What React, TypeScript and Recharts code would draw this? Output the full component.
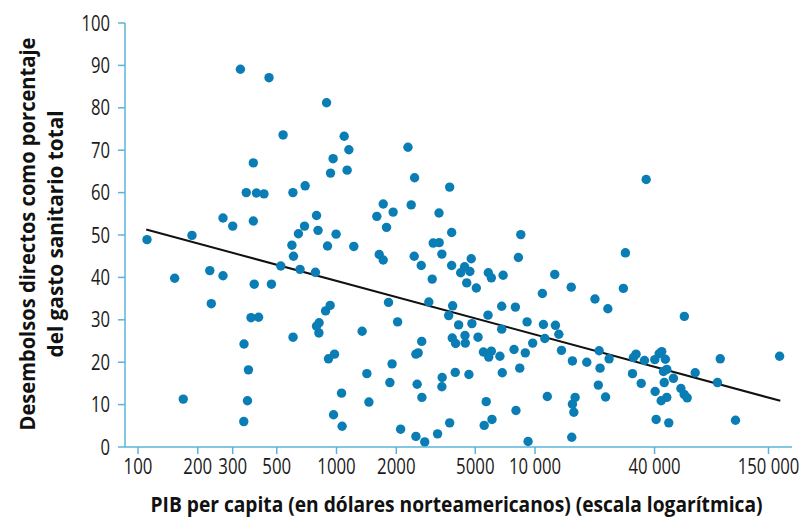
import React from 'react';
import { ScatterChart, Scatter, XAxis, YAxis, ReferenceLine, Label } from 'recharts';

// PIB per capita (USD) vs desembolsos directos (% del gasto sanitario total)
const gdp = [
  328, 457, 891, 538, 1093, 1154, 961, 1131, 933, 381, 351, 395, 431, 603, 695, 268, 300, 381, 793, 690, 807, 643, 995, 187, 111, 596, 901,
  607, 524, 655, 783, 230, 268, 153, 385, 470, 929, 881, 234, 371, 405, 817, 793, 815, 604, 342, 977, 911, 360, 1060, 169, 356, 966, 341, 1067,
  2291, 2473, 3715, 1719, 2378, 1596, 1928, 1786, 3283, 3802, 1222, 3069, 3289, 3394, 1641, 1719, 2462, 2671, 3802, 4771, 4418, 4220, 4698,
  5817, 6025, 6906, 3034, 4528, 5062, 8245, 8479, 12570, 10890, 1828, 2917, 3846, 3673, 5796, 6793, 7963, 9120, 11020, 12670, 13180, 13590,
  2031, 4123, 4808, 6793, 1346, 2686, 3828, 3981, 4438, 4453, 5163, 2512, 2579, 1905, 5495, 6025, 5845, 6653, 7838, 8933, 9730, 11200,
  1422, 1857, 2548, 3963, 4645, 3405, 3394, 6838, 8376, 2692, 1456, 5675, 8017, 11530, 2103, 2512, 2782, 3229, 3715, 5546, 6068, 9226,
  36300, 28530, 27860, 15220, 20040, 23270, 56520, 15430, 18230, 21040, 21260, 23610, 20840, 22660, 15920, 15430, 15680, 15310,
  30970, 34270, 32280, 31300, 35580, 40110, 42170, 43480, 45360, 46100, 44360, 49790, 44760, 40270, 43190, 46100, 54310, 56390, 58410,
  64090, 85700, 83000, 40740, 47170, 102300, 170600,
];

const outOfPocket = [
  89.1, 87.1, 81.2, 73.6, 73.3, 70.1, 68.0, 65.3, 64.6, 67.0, 60.0, 59.9, 59.7, 60.0, 61.6, 54.0, 52.1, 53.3, 54.6, 52.1, 51.1, 50.3, 50.2, 49.9, 48.9, 47.6, 47.4,
  45.0, 42.7, 41.9, 41.2, 41.6, 40.4, 39.8, 38.4, 38.4, 33.4, 32.1, 33.8, 30.5, 30.6, 29.3, 28.5, 26.9, 25.9, 24.3, 21.9, 20.8, 18.2, 12.7, 11.3, 10.9, 7.6, 6.0, 4.9,
  70.7, 63.5, 61.3, 57.3, 57.1, 54.4, 55.4, 51.8, 55.2, 50.6, 47.3, 48.1, 48.2, 45.5, 45.4, 44.1, 45.0, 42.8, 42.8, 44.4, 42.5, 41.1, 41.4,
  41.1, 39.9, 40.5, 39.6, 38.7, 37.5, 44.7, 50.1, 40.7, 36.2, 34.1, 34.2, 33.3, 31.0, 31.1, 33.2, 33.0, 29.5, 28.9, 28.7, 26.6, 22.8,
  29.5, 28.8, 29.1, 27.8, 27.3, 24.9, 25.7, 24.4, 26.3, 24.5, 25.9, 21.9, 22.2, 19.6, 22.4, 22.6, 21.2, 21.4, 23.0, 22.2, 24.5, 25.6,
  17.3, 15.2, 14.8, 17.6, 17.1, 16.4, 14.2, 17.5, 18.6, 11.7, 10.6, 10.7, 8.6, 11.9, 4.2, 2.5, 1.2, 3.1, 5.7, 5.1, 6.5, 1.3,
  63.1, 45.8, 37.4, 37.7, 34.9, 32.6, 30.8, 20.3, 20.0, 22.7, 18.6, 20.8, 14.6, 11.8, 11.7, 10.1, 8.2, 2.3,
  17.3, 15.0, 21.9, 21.1, 20.4, 20.6, 22.0, 22.5, 20.7, 18.3, 17.8, 16.2, 15.2, 13.1, 10.9, 11.7, 13.8, 12.4, 11.6,
  17.5, 20.8, 15.2, 6.5, 5.7, 6.3, 21.4,
];

// regression line end points
const trendGdp = [110, 172000];
const trendShare = [51.3, 10.9];

const xTicks = [100, 200, 300, 500, 1000, 2000, 5000, 10000, 40000, 150000];
const yTicks = [0, 10, 20, 30, 40, 50, 60, 70, 80, 90, 100];

const points = gdp.map((x, i) => ({ x, y: outOfPocket[i] }));

const AXIS = '#5ab4d9';
const DOT = '#0a7db5';
const FONT = '"Open Sans", "Liberation Sans", sans-serif';
const SX = 0.8; // horizontal squeeze to get the condensed look of the original

const fmtX = (v: number) => (v >= 10000 ? v.toLocaleString('en-US').replace(/,/g, ' ') : String(v));

const labelWidth = (s: string, digit: number, gap: number) => {
  let w = 0;
  for (const ch of s) w += ch === ' ' ? gap : digit;
  return w;
};

// text squeezed horizontally around its anchor point
const Narrow = ({ x, y, width, anchor, rotate = 0, children, ...rest }: any) => (
  <g transform={`translate(${x}, ${y}) rotate(${rotate}) scale(${SX}, 1)`}>
    <text x={0} y={0} textAnchor={anchor} textLength={width / SX} lengthAdjust="spacingAndGlyphs" {...rest}>
      {children}
    </text>
  </g>
);

const XTick = (props: any) => {
  const { x, y, payload } = props;
  const s = fmtX(payload.value);
  return (
    <Narrow x={x} y={y + 16} width={labelWidth(s, 9.6, 4)} anchor="middle" fontFamily={FONT} fontSize={21} fill="#1a1a1a">
      {s}
    </Narrow>
  );
};

const YTick = (props: any) => {
  const { x, y, payload } = props;
  const s = String(payload.value);
  return (
    <Narrow x={x} y={y + 7.5} width={labelWidth(s, 9.5, 4)} anchor="end" fontFamily={FONT} fontSize={21} fill="#1a1a1a">
      {s}
    </Narrow>
  );
};

const Dot = (props: any) => <circle cx={props.cx} cy={props.cy} r={4.7} fill={DOT} />;

const titleFont = { fontFamily: FONT, fontSize: 22, fontWeight: 700, fill: '#111' };

const XTitle = (props: any) => {
  const vb = props.viewBox;
  return (
    <Narrow x={vb.x + vb.width / 2 - 2} y={vb.y + 65} width={612} anchor="middle" {...titleFont}>
      PIB per capita (en dólares norteamericanos) (escala logarítmica)
    </Narrow>
  );
};

const YTitle = (props: any) => {
  const vb = props.viewBox;
  const cy = vb.y + vb.height / 2 - 1;
  return (
    <g>
      <Narrow x={35} y={cy} rotate={-90} width={393} anchor="middle" {...titleFont}>
        Desembolsos directos como porcentaje
      </Narrow>
      <Narrow x={63} y={cy} rotate={-90} width={247} anchor="middle" {...titleFont}>
        del gasto sanitario total
      </Narrow>
    </g>
  );
};

export default function App() {
  return (
    <div style={{ position: 'absolute', left: 0, top: 0, background: '#fff' }}>
      <ScatterChart width={805} height={519} margin={{ top: 23, right: 13, bottom: 0, left: 0 }}>
        <XAxis
          type="number"
          dataKey="x"
          scale="log"
          domain={[86, 197000]}
          allowDataOverflow
          ticks={xTicks}
          interval={0}
          height={72}
          tickSize={7}
          tickMargin={4}
          axisLine={{ stroke: AXIS, strokeWidth: 1.5 }}
          tickLine={{ stroke: AXIS, strokeWidth: 1.5 }}
          tick={XTick}
        >
          <Label content={XTitle} />
        </XAxis>
        <YAxis
          type="number"
          dataKey="y"
          domain={[0, 100]}
          ticks={yTicks}
          interval={0}
          width={125}
          tickSize={7}
          tickMargin={8}
          axisLine={{ stroke: AXIS, strokeWidth: 1.5 }}
          tickLine={{ stroke: AXIS, strokeWidth: 1.5 }}
          tick={YTick}
        >
          <Label content={YTitle} />
        </YAxis>
        <Scatter data={points} fill={DOT} shape={Dot} isAnimationActive={false} />
        <ReferenceLine
          segment={[
            { x: trendGdp[0], y: trendShare[0] },
            { x: trendGdp[1], y: trendShare[1] },
          ]}
          stroke="#111"
          strokeWidth={2}
        />
      </ScatterChart>
    </div>
  );
}
